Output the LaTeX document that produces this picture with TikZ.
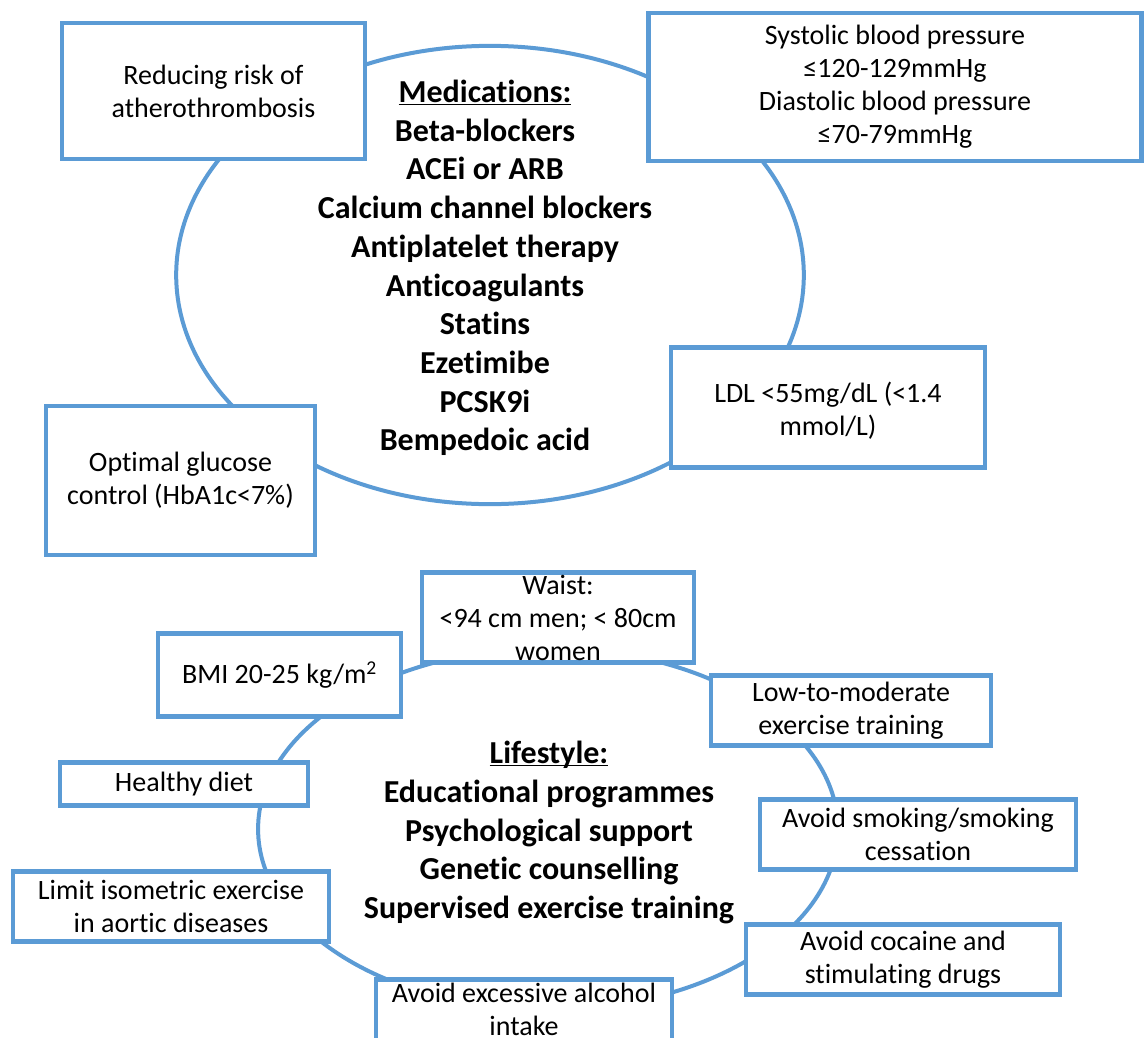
\documentclass[tikz,border=0pt]{standalone}
\usepackage{fontspec}
\setmainfont{Carlito}[Ligatures=NoCommon]
\usetikzlibrary{shapes.geometric}
\definecolor{ringblue}{HTML}{5B9BD5}
\newcommand\regtext{\fontsize{28bp}{33bp}\selectfont}
\newcommand\boldtext{\fontsize{32bp}{38.7bp}\selectfont\bfseries}

\begin{document}
\begin{tikzpicture}[x=1bp,y=-1bp,
  ring/.style={draw=ringblue, line width=4bp, ellipse, inner sep=0pt, outer sep=0pt},
  goalbox/.style={draw=ringblue, line width=4.5bp, fill=white, inner sep=0pt},
  goaltext/.style={font=\regtext, align=center, inner sep=0pt, text=black},
  hubtext/.style={font=\boldtext, align=center, inner sep=0pt, text=black}]
\clip (0,0) rectangle (1148,1038);
\fill[white] (0,0) rectangle (1148,1038);

% ---------- medications ring ----------
\node[ring, minimum width=630, minimum height=460] (medring) at (490,275) {};

\node[goalbox, minimum width=304, minimum height=137] (athero) at (213.5,91) {};
\node[goaltext] (atheroT) at (athero.center) {Reducing risk of\\atherothrombosis};

\node[goalbox, minimum width=495, minimum height=149] (bp) at (895,87) {};
\node[goaltext] (bpT) at (bp.center) {Systolic blood pressure\\≤120-129mmHg\\Diastolic blood pressure\\≤70-79mmHg};

\node[goalbox, minimum width=270, minimum height=150] (gluc) at (180.5,480.5) {};
\node[goaltext] (glucT) at (gluc.center) {Optimal glucose\\control (HbA1c<7\%)};

\node[goalbox, minimum width=315, minimum height=120] (ldl) at (828,407.5) {};
\node[goaltext] (ldlT) at ([yshift=-3]ldl.center) {LDL <55mg/dL (<1.4\\mmol/L)};

\node[hubtext] (meds) at (485,268) {\underline{Medications:}\\Beta-blockers\\ACEi or ARB\\Calcium channel blockers\\Antiplatelet therapy\\Anticoagulants\\Statins\\Ezetimibe\\PCSK9i\\Bempedoic acid};

% ---------- lifestyle ring ----------
\node[ring, minimum width=582, minimum height=363] (lifering) at (548,829) {};

\node[goalbox, minimum width=273, minimum height=90] (waist) at (558,617.5) {};
\node[goaltext] (waistT) at (waist.center) {Waist:\\<94 cm men; < 80cm\\women};

\node[goalbox, minimum width=244, minimum height=83] (bmi) at (279.5,675) {};
\node[goaltext] (bmiT) at (bmi.center) {BMI 20-25 kg/m\textsuperscript{2}};

\node[goalbox, minimum width=249, minimum height=43] (diet) at (184,784) {};
\node[goaltext] (dietT) at (diet.center) {Healthy diet};

\node[goalbox, minimum width=317, minimum height=70] (iso) at (171,906.5) {};
\node[goaltext] (isoT) at (iso.center) {Limit isometric exercise\\in aortic diseases};

\node[goalbox, minimum width=297, minimum height=83] (alcohol) at (524,1021) {};
\node[goaltext, anchor=north] (alcoholT) at (524,983) {Avoid excessive alcohol\\intake};

\node[goalbox, minimum width=281, minimum height=70] (exer) at (851,710.5) {};
\node[goaltext] (exerT) at (exer.center) {Low-to-moderate\\exercise training};

\node[goalbox, minimum width=317, minimum height=70] (smoke) at (918,834.5) {};
\node[goaltext] (smokeT) at (smoke.center) {Avoid smoking/smoking\\cessation};

\node[goalbox, minimum width=315, minimum height=70] (drugs) at (903,959.5) {};
\node[goaltext] (drugsT) at (drugs.center) {Avoid cocaine and\\stimulating drugs};

\node[hubtext] (life) at (549,832.6) {\underline{\raisebox{0pt}[\height][0pt]{Lifestyle:}}\\Educational programmes\\Psychological support\\Genetic counselling\\Supervised exercise training};
\end{tikzpicture}
\end{document}
